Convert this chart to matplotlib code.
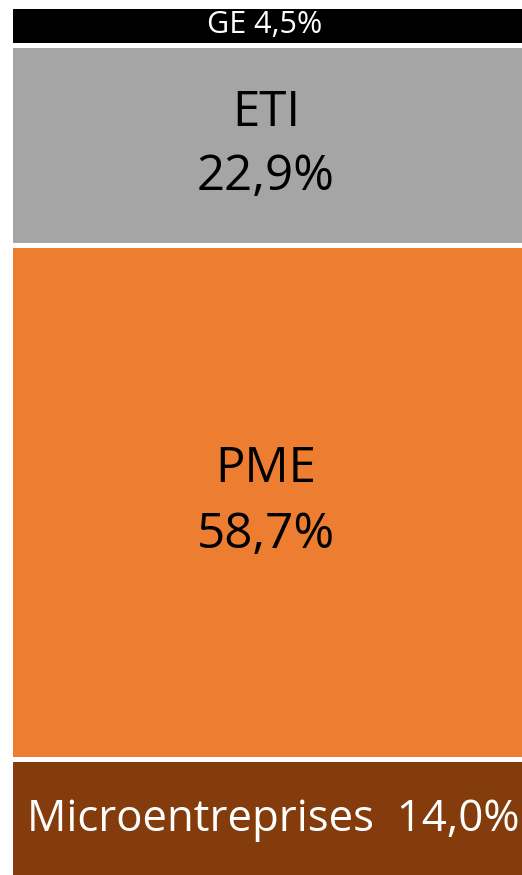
import matplotlib
matplotlib.use("Agg")
import matplotlib.pyplot as plt

categories = ["Microentreprises", "PME", "ETI", "GE"]
values = [14.0, 58.7, 22.9, 4.5]
colors = ["#843C0C", "#ED7D31", "#A5A5A5", "#000000"]
label_texts = ["Microentreprises  14,0%", "PME\n58,7%", "ETI\n22,9%", "GE 4,5%"]
text_colors = ["white", "black", "black", "white"]
font_sizes = [31.5, 35.5, 35.5, 22]
text_dx = [0.006, -0.008, -0.008, -0.01]
line_sp = [1.2, 1.45, 1.38, 1.2]

plt.rcParams['font.family'] = ['Open Sans', 'DejaVu Sans']

W, H = 522, 875
fig = plt.figure(figsize=(W / 100, H / 100), dpi=100)
ax = fig.add_axes([0, 0, 1, 1])

px_per_pct = 8.75
top_px = 5.6
bar_left_px = 10
bar_width_px = 520

bottom = 0.0
for cat, v, c, lab, tc, fs, dx, ls in zip(categories, values, colors, label_texts,
                                           text_colors, font_sizes, text_dx, line_sp):
    ax.bar(0, v, width=1.0, bottom=bottom, color=c, edgecolor="white", linewidth=3.6, align="center")
    ax.text(dx, bottom + v / 2, lab, ha="center", va="center", color=tc, fontsize=fs,
            linespacing=ls)
    bottom += v

total = sum(values)
ytop = total + top_px / px_per_pct
ybot = ytop - H / px_per_pct
ax.set_ylim(ybot, ytop)
ax.set_xlim(-0.5 - bar_left_px / bar_width_px, -0.5 + (W - bar_left_px) / bar_width_px)
ax.axis("off")

fig.savefig("out.png", dpi=100, facecolor="white")
